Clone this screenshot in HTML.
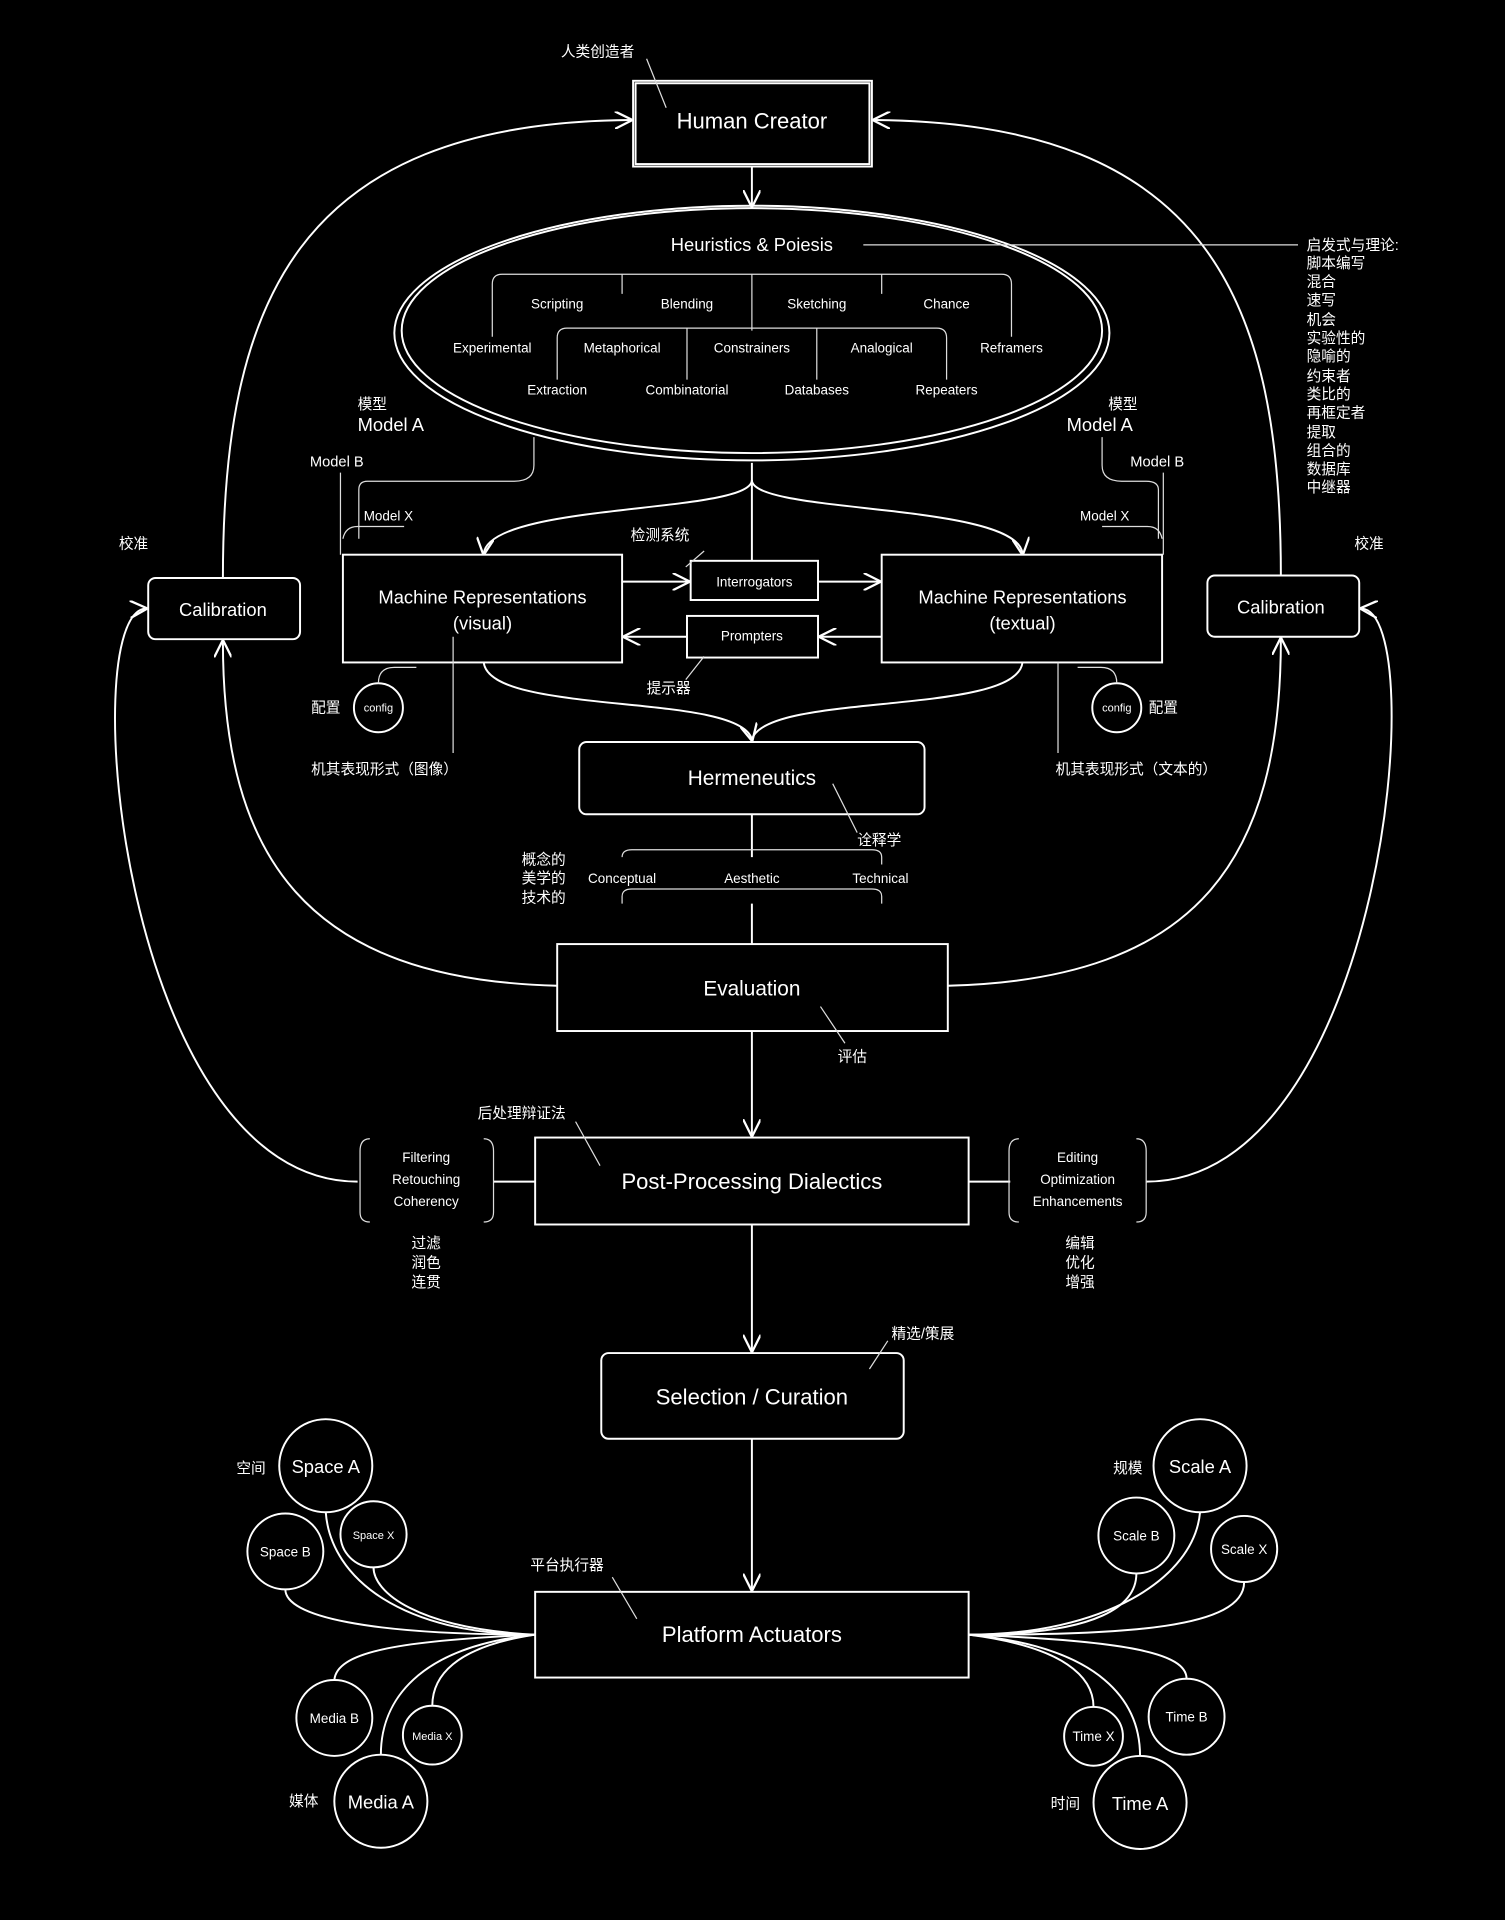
<!DOCTYPE html>
<html><head><meta charset="utf-8"><style>
html,body{margin:0;padding:0;background:#000;width:1505px;height:1920px;overflow:hidden}
svg{display:block}
text{fill:#fff;font-family:"Liberation Sans","Noto Sans CJK SC",sans-serif}
.b{stroke:#fff;stroke-width:1.6;fill:none}
.t{stroke:#ddd;stroke-width:1;fill:none}
.c{font-size:12px}
.s{font-size:11px}
.l{font-size:18px}
</style></head><body>
<svg width="1505" height="1920" viewBox="0 0 1229 1568" xmlns="http://www.w3.org/2000/svg">
<defs><marker id="a" viewBox="0 0 10 10" refX="9" refY="5" markerWidth="9" markerHeight="9" orient="auto-start-reverse"><path d="M0,0 L10,5 L0,10" fill="none" stroke="#fff" stroke-width="1.3"/></marker></defs>

<!-- boxes -->
<g class="b">
<rect x="517" y="66" width="195" height="70"/><rect x="519" y="68" width="191" height="66"/>
<ellipse cx="614" cy="272" rx="292" ry="104"/><ellipse cx="614" cy="270" rx="286" ry="100"/>
<rect x="280" y="453" width="228" height="88"/>
<rect x="720" y="453" width="229" height="88"/>
<rect x="564" y="458" width="104" height="32"/>
<rect x="561" y="503" width="107" height="34"/>
<rect x="121" y="472" width="124" height="50" rx="6"/>
<rect x="986" y="470" width="124" height="50" rx="6"/>
<rect x="473" y="606" width="282" height="59" rx="6"/>
<rect x="455" y="771" width="319" height="71"/>
<rect x="437" y="929" width="354" height="71"/>
<rect x="491" y="1105" width="247" height="70" rx="6"/>
<rect x="437" y="1300" width="354" height="70"/>
<circle cx="309" cy="578" r="20"/><circle cx="912" cy="578" r="20"/>
<circle cx="266" cy="1197" r="38"/><circle cx="233" cy="1267" r="31"/><circle cx="305" cy="1253" r="27"/>
<circle cx="273" cy="1403" r="31"/><circle cx="353" cy="1417" r="24"/><circle cx="311" cy="1471" r="38"/>
<circle cx="980" cy="1197" r="38"/><circle cx="928" cy="1254" r="31"/><circle cx="1016" cy="1265" r="27"/>
<circle cx="969" cy="1402" r="31"/><circle cx="893" cy="1418" r="24"/><circle cx="931" cy="1472" r="38"/>
</g>

<!-- arrows/connectors -->
<g class="b">
<path d="M614,136 V168" marker-end="url(#a)"/>
<path d="M614,378 V392 C614,420 400,410 395,452" marker-end="url(#a)"/>
<path d="M614,392 C614,420 830,410 835,452" marker-end="url(#a)"/>
<path d="M614,392 V458"/>
<path d="M508,475 H562" marker-end="url(#a)"/>
<path d="M668,475 H718" marker-end="url(#a)"/>
<path d="M720,520 H670" marker-end="url(#a)"/>
<path d="M561,520 H510" marker-end="url(#a)"/>
<path d="M395,541 C400,585 605,565 614,604" marker-end="url(#a)"/>
<path d="M835,541 C830,585 625,565 614,604"/>
<path d="M182,472 C182,250 240,100 515,98" marker-end="url(#a)"/>
<path d="M1046,470 C1046,250 990,100 714,98" marker-end="url(#a)"/>
<path d="M455,805 C250,800 182,700 182,524" marker-end="url(#a)"/>
<path d="M774,805 C980,800 1046,700 1046,522" marker-end="url(#a)"/>
<path d="M614,842 V927" marker-end="url(#a)"/>
<path d="M614,1000 V1103" marker-end="url(#a)"/>
<path d="M614,1175 V1298" marker-end="url(#a)"/>
<path d="M292,965 C100,965 60,500 119,497" marker-end="url(#a)"/>
<path d="M936,965 C1130,965 1170,500 1112,497" marker-end="url(#a)"/>
<path d="M403,965 H437 M791,965 H825"/>
<path d="M614,665 V700 M614,738 V771"/>
<path d="M437,1335 C330,1335 270,1290 266,1235"/>
<path d="M437,1335 C300,1335 233,1320 233,1298"/>
<path d="M437,1335 C340,1330 305,1300 305,1280"/>
<path d="M437,1335 C320,1340 275,1350 273,1372"/>
<path d="M437,1335 C370,1345 353,1370 353,1393"/>
<path d="M437,1335 C340,1345 311,1390 311,1433"/>
<path d="M791,1335 C900,1335 975,1290 980,1235"/>
<path d="M791,1335 C900,1335 928,1310 928,1285"/>
<path d="M791,1335 C920,1335 1016,1330 1016,1292"/>
<path d="M791,1335 C920,1340 969,1350 969,1371"/>
<path d="M791,1335 C870,1345 893,1370 893,1394"/>
<path d="M791,1335 C900,1345 931,1390 931,1434"/>
</g>

<!-- thin brackets -->
<g class="t">
<path d="M705,200 H1060"/>
<path d="M402,275 V232 Q402,224 410,224 H818 Q826,224 826,232 V275"/>
<path d="M508,224 V240 M614,224 V270 M720,224 V240"/>
<path d="M455,310 V276 Q455,268 463,268 H765 Q773,268 773,276 V310"/>
<path d="M561,268 V310 M667,268 V310"/>
<path d="M436,357 V380 Q436,393 420,393 H300 Q293,393 293,400 V440"/>
<path d="M278,386 V453 M280,440 Q282,430 292,430 H330"/>
<path d="M900,357 V380 Q900,393 916,393 H936 Q946,393 946,400 V440"/>
<path d="M950,386 V453 M949,440 Q947,430 937,430 H900"/>
<path d="M508,738 V732 Q508,726 516,726 H712 Q720,726 720,732 V738"/>
<path d="M508,700 Q508,694 516,694 H712 Q720,694 720,700 V706"/>
<path d="M370,520 V615 M864,541 V615"/>
<path d="M309,558 Q309,545 322,545 H340"/>
<path d="M912,558 Q912,545 899,545 H880"/>
<path d="M302,930 Q294,930 294,940 V990 Q294,998 302,998 M395,930 Q403,930 403,940 V990 Q403,998 395,998"/>
<path d="M832,930 Q824,930 824,940 V990 Q824,998 832,998 M928,930 Q936,930 936,940 V990 Q936,998 928,998"/>
<path d="M528,48 L544,88 M680,640 L700,680 M670,822 L690,852 M470,916 L490,952 M575,450 L560,463 M575,536 L560,555 M725,1095 L710,1118 M500,1288 L520,1322"/>
</g>

<!-- labels -->
<g text-anchor="middle">
<text x="614" y="105" class="l">Human Creator</text>
<text x="614" y="205" font-size="15">Heuristics &amp; Poiesis</text>
<text x="455" y="252" class="s">Scripting</text><text x="561" y="252" class="s">Blending</text><text x="667" y="252" class="s">Sketching</text><text x="773" y="252" class="s">Chance</text>
<text x="402" y="288" class="s">Experimental</text><text x="508" y="288" class="s">Metaphorical</text><text x="614" y="288" class="s">Constrainers</text><text x="720" y="288" class="s">Analogical</text><text x="826" y="288" class="s">Reframers</text>
<text x="455" y="322" class="s">Extraction</text><text x="561" y="322" class="s">Combinatorial</text><text x="667" y="322" class="s">Databases</text><text x="773" y="322" class="s">Repeaters</text>
<text x="394" y="493" font-size="15">Machine Representations</text><text x="394" y="514" font-size="15">(visual)</text>
<text x="835" y="493" font-size="15">Machine Representations</text><text x="835" y="514" font-size="15">(textual)</text>
<text x="616" y="479" class="s">Interrogators</text>
<text x="614" y="523" class="s">Prompters</text>
<text x="182" y="503" font-size="15">Calibration</text>
<text x="1046" y="501" font-size="15">Calibration</text>
<text x="614" y="641" font-size="17">Hermeneutics</text>
<text x="508" y="721" class="s">Conceptual</text><text x="614" y="721" class="s">Aesthetic</text><text x="719" y="721" class="s">Technical</text>
<text x="614" y="813" font-size="17">Evaluation</text>
<text x="614" y="971" class="l">Post-Processing Dialectics</text>
<text x="614" y="1147" class="l">Selection / Curation</text>
<text x="614" y="1341" class="l">Platform Actuators</text>
<text x="348" y="949" class="s">Filtering</text><text x="348" y="967" class="s">Retouching</text><text x="348" y="985" class="s">Coherency</text>
<text x="880" y="949" class="s">Editing</text><text x="880" y="967" class="s">Optimization</text><text x="880" y="985" class="s">Enhancements</text>
<text x="348" y="1019" class="c">过滤</text><text x="348" y="1035" class="c">润色</text><text x="348" y="1051" class="c">连贯</text>
<text x="882" y="1019" class="c">编辑</text><text x="882" y="1035" class="c">优化</text><text x="882" y="1051" class="c">增强</text>
<text x="309" y="581" font-size="9">config</text><text x="912" y="581" font-size="9">config</text>
<text x="266" y="1203" font-size="15">Space A</text><text x="233" y="1271" class="s">Space B</text><text x="305" y="1257" font-size="9">Space X</text>
<text x="273" y="1407" class="s">Media B</text><text x="353" y="1421" font-size="9">Media X</text><text x="311" y="1477" font-size="15">Media A</text>
<text x="980" y="1203" font-size="15">Scale A</text><text x="928" y="1258" class="s">Scale B</text><text x="1016" y="1269" class="s">Scale X</text>
<text x="969" y="1406" class="s">Time B</text><text x="893" y="1422" class="s">Time X</text><text x="931" y="1478" font-size="15">Time A</text>
</g>
<g class="c">
<text x="458" y="46">人类创造者</text>
<text x="292" y="334">模型</text><text x="292" y="352" font-size="15">Model A</text>
<text x="253" y="381">Model B</text><text x="297" y="425" class="s">Model X</text>
<text x="905" y="334">模型</text><text x="871" y="352" font-size="15">Model A</text>
<text x="923" y="381">Model B</text><text x="882" y="425" class="s">Model X</text>
<text x="515" y="441">检测系统</text><text x="528" y="566">提示器</text>
<text x="97" y="448">校准</text><text x="1106" y="448">校准</text>
<text x="254" y="582">配置</text><text x="938" y="582">配置</text>
<text x="254" y="632">机其表现形式（图像）</text><text x="862" y="632">机其表现形式（文本的）</text>
<text x="700" y="690">诠释学</text>
<text x="426" y="706">概念的</text><text x="426" y="721">美学的</text><text x="426" y="737">技术的</text>
<text x="684" y="867">评估</text>
<text x="390" y="913">后处理辩证法</text>
<text x="728" y="1093">精选/策展</text>
<text x="433" y="1282">平台执行器</text>
<text x="193" y="1203">空间</text><text x="909" y="1203">规模</text>
<text x="236" y="1475">媒体</text><text x="858" y="1477">时间</text>
<text x="1067" y="204">启发式与理论:</text>
<text x="1067" y="219">脚本编写</text><text x="1067" y="234">混合</text><text x="1067" y="249">速写</text><text x="1067" y="265">机会</text><text x="1067" y="280">实验性的</text><text x="1067" y="295">隐喻的</text><text x="1067" y="311">约束者</text><text x="1067" y="326">类比的</text><text x="1067" y="341">再框定者</text><text x="1067" y="357">提取</text><text x="1067" y="372">组合的</text><text x="1067" y="387">数据库</text><text x="1067" y="402">中继器</text>
</g>
</svg>
</body></html>
